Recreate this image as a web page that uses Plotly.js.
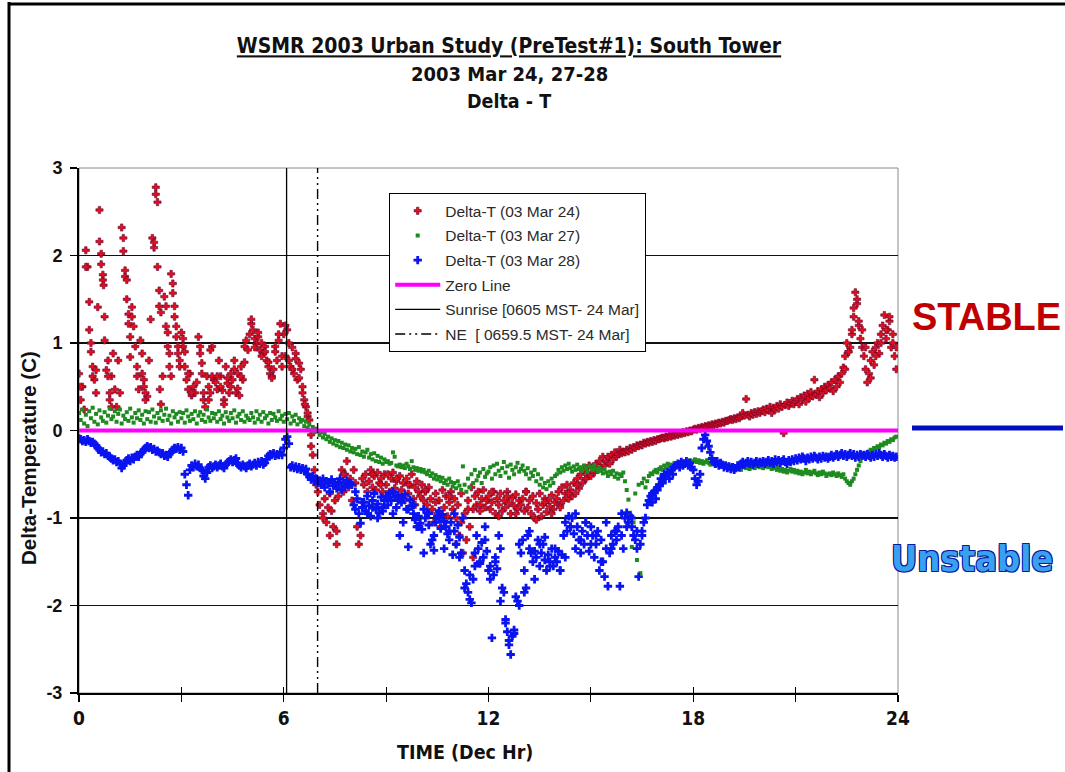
<!DOCTYPE html>
<html>
<head>
<meta charset="utf-8">
<script src="https://cdn.plot.ly/plotly-3.0.1.min.js"></script>
<style>
html,body{margin:0;padding:0;background:#fff;}
#chart{width:1065px;height:772px;}
</style>
</head>
<body>
<div id="chart"></div>
<script>
// Time axis (decimal hours, 3-minute samples)
const hours = [
0,0.05,0.1,0.15,0.2,0.25,0.3,0.35,0.4,0.45,0.5,0.55,0.6,0.65,0.7,0.75,0.8,0.85,0.9,0.95,
1,1.05,1.1,1.15,1.2,1.25,1.3,1.35,1.4,1.45,1.5,1.55,1.6,1.65,1.7,1.75,1.8,1.85,1.9,1.95,
2,2.05,2.1,2.15,2.2,2.25,2.3,2.35,2.4,2.45,2.5,2.55,2.6,2.65,2.7,2.75,2.8,2.85,2.9,2.95,
3,3.05,3.1,3.15,3.2,3.25,3.3,3.35,3.4,3.45,3.5,3.55,3.6,3.65,3.7,3.75,3.8,3.85,3.9,3.95,
4,4.05,4.1,4.15,4.2,4.25,4.3,4.35,4.4,4.45,4.5,4.55,4.6,4.65,4.7,4.75,4.8,4.85,4.9,4.95,
5,5.05,5.1,5.15,5.2,5.25,5.3,5.35,5.4,5.45,5.5,5.55,5.6,5.65,5.7,5.75,5.8,5.85,5.9,5.95,
6,6.05,6.1,6.15,6.2,6.25,6.3,6.35,6.4,6.45,6.5,6.55,6.6,6.65,6.7,6.75,6.8,6.85,6.9,6.95,
7,7.05,7.1,7.15,7.2,7.25,7.3,7.35,7.4,7.45,7.5,7.55,7.6,7.65,7.7,7.75,7.8,7.85,7.9,7.95,
8,8.05,8.1,8.15,8.2,8.25,8.3,8.35,8.4,8.45,8.5,8.55,8.6,8.65,8.7,8.75,8.8,8.85,8.9,8.95,
9,9.05,9.1,9.15,9.2,9.25,9.3,9.35,9.4,9.45,9.5,9.55,9.6,9.65,9.7,9.75,9.8,9.85,9.9,9.95,
10,10.05,10.1,10.15,10.2,10.25,10.3,10.35,10.4,10.45,10.5,10.55,10.6,10.65,10.7,10.75,10.8,10.85,10.9,10.95,
11,11.05,11.1,11.15,11.2,11.25,11.3,11.35,11.4,11.45,11.5,11.55,11.6,11.65,11.7,11.75,11.8,11.85,11.9,11.95,
12,12.05,12.1,12.15,12.2,12.25,12.3,12.35,12.4,12.45,12.5,12.55,12.6,12.65,12.7,12.75,12.8,12.85,12.9,12.95,
13,13.05,13.1,13.15,13.2,13.25,13.3,13.35,13.4,13.45,13.5,13.55,13.6,13.65,13.7,13.75,13.8,13.85,13.9,13.95,
14,14.05,14.1,14.15,14.2,14.25,14.3,14.35,14.4,14.45,14.5,14.55,14.6,14.65,14.7,14.75,14.8,14.85,14.9,14.95,
15,15.05,15.1,15.15,15.2,15.25,15.3,15.35,15.4,15.45,15.5,15.55,15.6,15.65,15.7,15.75,15.8,15.85,15.9,15.95,
16,16.05,16.1,16.15,16.2,16.25,16.3,16.35,16.4,16.45,16.5,16.55,16.6,16.65,16.7,16.75,16.8,16.85,16.9,16.95,
17,17.05,17.1,17.15,17.2,17.25,17.3,17.35,17.4,17.45,17.5,17.55,17.6,17.65,17.7,17.75,17.8,17.85,17.9,17.95,
18,18.05,18.1,18.15,18.2,18.25,18.3,18.35,18.4,18.45,18.5,18.55,18.6,18.65,18.7,18.75,18.8,18.85,18.9,18.95,
19,19.05,19.1,19.15,19.2,19.25,19.3,19.35,19.4,19.45,19.5,19.55,19.6,19.65,19.7,19.75,19.8,19.85,19.9,19.95,
20,20.05,20.1,20.15,20.2,20.25,20.3,20.35,20.4,20.45,20.5,20.55,20.6,20.65,20.7,20.75,20.8,20.85,20.9,20.95,
21,21.05,21.1,21.15,21.2,21.25,21.3,21.35,21.4,21.45,21.5,21.55,21.6,21.65,21.7,21.75,21.8,21.85,21.9,21.95,
22,22.05,22.1,22.15,22.2,22.25,22.3,22.35,22.4,22.45,22.5,22.55,22.6,22.65,22.7,22.75,22.8,22.85,22.9,22.95,
23,23.05,23.1,23.15,23.2,23.25,23.3,23.35,23.4,23.45,23.5,23.55,23.6,23.65,23.7,23.75,23.8,23.85,23.9,23.95
];

// Delta-T (03 Mar 24)
const dtMar24 = [
0.65,0.35,0.5,0.24,2.06,1.87,1.15,0.9,0.73,0.58,0.43,1.41,2.52,2.02,1.72,1.03,0.69,0.8,0.35,0.62,
0.88,0.47,0.27,0.8,0.43,2.32,2.05,1.76,1.5,1.33,1.07,1.41,1.19,0.96,0.73,0.47,1.03,0.65,0.5,0.35,
0.39,0.8,1.27,2.2,2.09,2.78,2.61,1.6,1.35,0.62,1.53,1.19,0.96,0.73,1.79,1.57,1.3,1.07,0.88,0.73,
1.12,0.96,0.73,0.58,0.47,0.65,0.4,0.5,0.43,0.55,1.07,0.88,0.65,0.35,0.27,0.62,0.5,0.43,0.96,0.58,
0.55,0.47,0.8,0.62,0.46,0.35,0.73,0.54,0.43,0.65,0.58,0.8,0.43,0.65,0.4,0.73,0.58,0.96,1.03,0.92,
1.1,1.22,1.15,1.05,0.99,1.07,0.92,1.0,0.88,0.96,0.8,0.73,0.65,0.62,0.7,0.96,0.8,1.03,1.22,0.73,
1.1,0.85,1.15,0.8,0.73,0.95,0.65,0.88,0.58,0.77,0.7,0.43,0.35,0.27,0.16,0.12,-0.18,-0.28,-0.45,-0.62,
-0.7,-0.85,-0.62,-0.95,-0.78,-1.05,-0.88,-1.2,-0.92,-1.1,-0.8,-1.15,-0.75,-0.6,-0.45,-0.7,-0.5,-0.35,-0.65,-0.55,
-0.8,-0.45,-0.6,-1.1,-1.3,-1.2,-0.55,-0.62,-0.5,-0.7,-0.58,-0.45,-0.65,-0.52,-0.68,-0.48,-0.6,-0.55,-0.7,-0.5,
-0.62,-0.5,-0.7,-0.55,-0.48,-0.66,-0.58,-0.75,-0.52,-0.68,-0.6,-0.8,-0.55,-0.72,-0.62,-0.5,-0.78,-0.65,-0.58,-0.7,
-0.75,-0.62,-0.8,-0.7,-0.85,-0.65,-0.78,-0.9,-1.05,-0.72,-0.95,-0.8,-1.1,-0.68,-0.88,-0.75,-0.98,-0.82,-0.7,-0.9,
-0.78,-1.0,-0.85,-1.2,-0.72,-1.4,-0.95,-1.25,-0.8,-1.1,-0.65,-0.9,-0.75,-0.85,-0.7,-0.92,-0.78,-0.68,-0.88,-0.8,
-0.75,-0.9,-0.82,-0.7,-0.95,-0.78,-0.85,-0.72,-0.92,-0.8,-0.88,-0.7,-0.83,-0.95,-0.77,-0.86,-0.73,-0.9,-0.8,-0.85,
-0.78,-0.92,-0.7,-0.88,-0.8,-0.95,-0.75,-1.0,-0.83,-0.9,-0.72,-0.98,-0.85,-0.78,-0.93,-0.8,-0.87,-0.74,-0.9,-0.82,
-0.78,-0.7,-0.85,-0.65,-0.8,-0.72,-0.62,-0.78,-0.68,-0.75,-0.6,-0.72,-0.55,-0.66,-0.5,-0.6,-0.45,-0.55,-0.48,-0.4,
-0.52,-0.42,-0.48,-0.38,-0.45,-0.35,-0.42,-0.3,-0.4,-0.35,-0.3,-0.38,-0.28,-0.33,-0.25,-0.3,-0.27,-0.22,-0.26,-0.24,
-0.25,-0.22,-0.24,-0.2,-0.22,-0.19,-0.2,-0.17,-0.18,-0.16,-0.17,-0.14,-0.15,-0.13,-0.14,-0.12,-0.13,-0.11,-0.12,-0.1,
-0.1,-0.09,-0.08,-0.09,-0.07,-0.08,-0.06,-0.07,-0.05,-0.06,-0.04,-0.05,-0.03,-0.04,-0.02,-0.03,-0.01,-0.02,0.0,-0.01,
0.01,0.02,0.01,0.03,0.02,0.04,0.03,0.05,0.04,0.06,0.05,0.07,0.06,0.08,0.07,0.09,0.08,0.1,0.09,0.11,
0.11,0.12,0.13,0.12,0.14,0.13,0.15,0.14,0.16,0.2,0.17,0.36,0.18,0.16,0.2,0.18,0.21,0.19,0.22,0.2,
0.22,0.24,0.21,0.25,0.23,0.27,0.2,0.26,0.24,0.28,0.25,0.3,0.27,-0.03,0.29,0.32,0.28,0.31,0.34,0.3,
0.33,0.36,0.3,0.38,0.35,0.4,0.33,0.42,0.37,0.44,0.39,0.58,0.41,0.45,0.38,0.47,0.43,0.5,0.46,0.52,
0.48,0.55,0.45,0.58,0.5,0.62,0.55,0.65,0.72,0.85,1.0,0.9,0.95,1.1,1.3,1.58,1.45,1.2,1.05,0.95,
0.85,0.7,0.55,0.65,0.8,0.9,0.75,0.95,1.0,0.88,1.1,1.2,1.32,1.05,1.15,1.25,0.95,1.1,0.85,0.7
];
// extra (off-grid) readings of the 24 Mar cloud
const dtMar24ExtraT = [0.05,0.2,0.3,0.35,0.4,0.5,0.6,0.65,0.7,0.72,0.75,0.85,0.9,0.95,
1.3,1.35,1.4,1.45,1.5,1.55,1.7,1.85,1.9,1.95,
2.2,2.25,2.3,2.35,2.37,2.4,2.55,2.6,2.65,2.7,2.75,2.8,2.85,2.9,2.95,
3.05,3.1,3.2,3.3,3.55,3.6,3.65,3.8,3.85,3.9,
4.05,4.15,4.25,4.35,4.45,4.55,4.65,4.75,4.85,
5.05,5.15,5.25,5.35,5.45,5.55,5.65,5.75,5.85,5.95,
6.05,6.15,6.25,6.35,6.45,6.55,6.62,6.7,6.8,
7.15,7.35,7.55,7.75,8.6,8.85,9.1,9.3,9.65,9.85,10.15,10.45,10.65,10.85,11.05,11.2,11.4,11.55,11.75,
12.1,12.3,12.55,12.8,13.1,13.4,13.65,13.85,14.1,14.35,14.6,14.85,15.1,
22.45,22.55,22.65,22.7,22.8,22.85,22.95,23.05,23.2,23.35,23.5,23.65,23.75,23.85,23.95];
const dtMar24ExtraV = [0.5,1.87,1.47,1.0,0.62,0.69,2.16,1.9,1.78,1.66,1.3,0.62,0.43,0.27,
2.2,1.83,1.72,1.22,0.84,1.3,0.62,0.88,0.58,0.43,
2.15,2.7,1.87,1.42,0.47,0.3,1.42,1.12,0.88,0.62,1.68,1.42,1.19,0.96,0.8,
1.05,0.9,0.65,0.43,0.96,0.77,0.43,0.35,0.92,0.62,
0.62,0.5,0.3,0.6,0.5,0.7,0.48,0.62,0.78,
1.27,0.95,1.12,0.85,0.9,0.78,0.6,0.9,1.1,0.85,
1.2,1.0,0.7,0.82,0.6,0.5,0.3,0.2,-0.05,
-1.0,-0.72,-1.3,-0.5,-0.5,-0.62,-0.72,-0.55,-0.62,-0.85,-0.68,-0.82,-1.0,-0.75,-1.3,-1.05,-0.9,-1.45,-0.85,
-0.7,-0.98,-0.75,-0.95,-0.7,-1.02,-0.82,-0.95,-0.88,-0.72,-0.62,-0.55,-0.45,
0.7,0.9,1.15,1.4,1.5,1.25,1.15,0.95,0.6,0.85,1.0,1.15,1.3,1.0,0.95];

// Delta-T (03 Mar 27)
const dtMar27 = [
0.2,0.12,0.24,0.08,0.18,0.05,0.22,0.14,0.26,0.1,0.19,0.07,0.23,0.15,0.11,0.21,0.09,0.17,0.25,0.13,
0.16,0.22,0.1,0.19,0.24,0.08,0.17,0.13,0.21,0.11,0.25,0.15,0.09,0.2,0.14,0.23,0.12,0.18,0.08,0.22,
0.13,0.21,0.1,0.24,0.16,0.09,0.2,0.14,0.23,0.11,0.18,0.25,0.12,0.17,0.08,0.22,0.15,0.19,0.1,0.21,
0.14,0.2,0.09,0.23,0.16,0.11,0.19,0.13,0.22,0.08,0.17,0.21,0.12,0.18,0.1,0.24,0.15,0.11,0.2,0.14,
0.19,0.1,0.22,0.13,0.17,0.08,0.21,0.15,0.11,0.2,0.14,0.23,0.09,0.16,0.19,0.12,0.22,0.1,0.17,0.14,
0.12,0.2,0.15,0.09,0.22,0.13,0.18,0.1,0.21,0.14,0.17,0.08,0.2,0.12,0.19,0.15,0.11,0.22,0.13,0.17,
0.1,0.19,0.13,0.2,0.08,0.16,0.11,0.18,0.07,0.14,0.1,0.12,0.05,0.1,0.03,0.07,0.0,0.04,-0.02,0.02,
-0.01,-0.05,-0.02,-0.08,-0.04,-0.1,-0.07,-0.13,-0.09,-0.15,-0.11,-0.17,-0.12,-0.19,-0.14,-0.2,-0.16,-0.22,-0.17,-0.24,
-0.2,-0.25,-0.21,-0.27,-0.19,-0.28,-0.24,-0.3,-0.25,-0.22,-0.31,-0.27,-0.33,-0.26,-0.35,-0.29,-0.36,-0.31,-0.38,-0.33,
-0.36,-0.35,-0.38,-0.37,-0.25,-0.3,-0.4,-0.41,-0.39,-0.42,-0.4,-0.43,-0.38,-0.41,-0.44,-0.35,-0.42,-0.45,-0.43,-0.46,
-0.44,-0.47,-0.45,-0.48,-0.5,-0.46,-0.52,-0.49,-0.55,-0.51,-0.56,-0.53,-0.58,-0.54,-0.6,-0.57,-0.62,-0.55,-0.59,-0.64,
-0.6,-0.66,-0.58,-0.63,-0.68,-0.41,-0.62,-0.7,-0.55,-0.65,-0.5,-0.6,-0.45,-0.57,-0.52,-0.48,-0.6,-0.44,-0.53,-0.49,
-0.47,-0.42,-0.55,-0.4,-0.5,-0.38,-0.46,-0.52,-0.43,-0.36,-0.48,-0.41,-0.54,-0.39,-0.45,-0.5,-0.42,-0.37,-0.47,-0.44,
-0.4,-0.46,-0.5,-0.43,-0.55,-0.48,-0.52,-0.45,-0.58,-0.5,-0.62,-0.55,-0.65,-0.6,-0.67,-0.58,-0.63,-0.55,-0.6,-0.52,
-0.5,-0.45,-0.48,-0.42,-0.46,-0.4,-0.44,-0.38,-0.43,-0.47,-0.41,-0.45,-0.39,-0.44,-0.42,-0.46,-0.4,-0.43,-0.47,-0.41,
-0.42,-0.45,-0.4,-0.44,-0.47,-0.43,-0.46,-0.49,-0.44,-0.48,-0.52,-0.47,-0.5,-0.46,-0.53,-0.49,-0.55,-0.5,-0.52,-0.48,
-0.58,-0.68,-0.79,-0.94,-1.33,-1.05,-0.72,-1.48,-0.62,-1.63,-0.6,-0.55,-0.65,-0.58,-0.52,-0.49,-0.5,-0.47,-0.45,-0.48,
-0.44,-0.42,-0.45,-0.4,-0.43,-0.38,-0.41,-0.39,-0.42,-0.37,-0.4,-0.38,-0.36,-0.39,-0.37,-0.35,-0.38,-0.36,-0.34,-0.37,
-0.35,-0.33,-0.36,-0.34,-0.37,-0.35,-0.38,-0.36,-0.34,-0.37,-0.39,-0.36,-0.38,-0.4,-0.37,-0.39,-0.41,-0.38,-0.4,-0.42,
-0.39,-0.41,-0.43,-0.4,-0.42,-0.44,-0.41,-0.43,-0.45,-0.42,-0.4,-0.43,-0.41,-0.44,-0.42,-0.4,-0.43,-0.41,-0.39,-0.42,
-0.4,-0.43,-0.41,-0.39,-0.42,-0.4,-0.44,-0.41,-0.43,-0.45,-0.42,-0.46,-0.44,-0.47,-0.45,-0.48,-0.46,-0.44,-0.47,-0.45,
-0.48,-0.46,-0.49,-0.47,-0.5,-0.48,-0.45,-0.49,-0.47,-0.5,-0.48,-0.46,-0.49,-0.51,-0.48,-0.5,-0.47,-0.49,-0.52,-0.5,
-0.49,-0.51,-0.48,-0.5,-0.52,-0.49,-0.51,-0.53,-0.5,-0.55,-0.58,-0.6,-0.62,-0.58,-0.55,-0.5,-0.45,-0.4,-0.35,-0.3,
-0.28,-0.26,-0.27,-0.24,-0.22,-0.23,-0.2,-0.21,-0.18,-0.19,-0.16,-0.17,-0.14,-0.15,-0.12,-0.13,-0.1,-0.11,-0.08,-0.07
];

// Delta-T (03 Mar 28)
const dtMar28 = [
-0.09,-0.1,-0.12,-0.11,-0.13,-0.1,-0.12,-0.14,-0.13,-0.15,-0.17,-0.2,-0.22,-0.25,-0.24,-0.27,-0.26,-0.29,-0.3,-0.32,
-0.34,-0.33,-0.36,-0.35,-0.38,-0.43,-0.4,-0.37,-0.34,-0.32,-0.35,-0.31,-0.33,-0.3,-0.28,-0.3,-0.27,-0.25,-0.22,-0.2,
-0.18,-0.2,-0.19,-0.22,-0.21,-0.24,-0.23,-0.25,-0.27,-0.26,-0.29,-0.28,-0.3,-0.27,-0.25,-0.22,-0.2,-0.21,-0.19,-0.22,
-0.2,-0.24,-0.5,-0.62,-0.74,-0.45,-0.4,-0.42,-0.38,-0.41,-0.39,-0.43,-0.45,-0.52,-0.55,-0.48,-0.42,-0.4,-0.43,-0.41,
-0.39,-0.42,-0.4,-0.38,-0.41,-0.43,-0.39,-0.37,-0.35,-0.33,-0.36,-0.34,-0.32,-0.38,-0.4,-0.42,-0.39,-0.41,-0.43,-0.4,
-0.38,-0.41,-0.39,-0.37,-0.4,-0.36,-0.38,-0.35,-0.39,-0.37,-0.33,-0.29,-0.27,-0.28,-0.26,-0.29,-0.27,-0.28,-0.25,-0.28,
-0.2,-0.1,-0.07,-0.15,-0.42,-0.4,-0.43,-0.41,-0.44,-0.42,-0.45,-0.43,-0.46,-0.44,-0.5,-0.53,-0.56,-0.52,-0.58,-0.55,
-0.6,-0.57,-0.62,-0.55,-0.65,-0.58,-0.6,-0.7,-0.56,-0.63,-0.59,-0.66,-0.61,-0.55,-0.68,-0.6,-0.64,-0.57,-0.62,-0.6,
-0.62,-0.85,-0.9,-0.78,-0.95,-1.06,-0.88,-0.82,-0.92,-0.75,-0.86,-0.98,-0.8,-0.72,-0.9,-0.84,-0.94,-0.76,-0.88,-0.8,
-0.75,-0.78,-0.72,-0.8,-0.7,-0.76,-0.88,-0.74,-1.2,-0.82,-0.77,-0.73,-0.9,-1.33,-0.79,-0.86,-0.95,-1.02,-1.1,-0.98,
-1.06,-1.13,-1.4,-1.0,-0.94,-1.08,-1.3,-1.25,-1.37,-1.05,-0.98,-1.0,-1.12,-0.96,-1.04,-1.1,-1.18,-1.25,-1.05,-1.42,
-1.15,-1.3,-1.08,-1.22,-1.4,-1.0,-1.6,-1.75,-1.85,-1.93,-1.97,-1.7,-1.55,-1.2,-1.35,-1.5,-1.28,-1.45,-1.1,-1.38,
-1.6,-1.55,-2.37,-1.65,-1.5,-1.58,-1.2,-1.35,-1.8,-1.85,-2.16,-2.3,-2.4,-2.56,-2.35,-2.28,-1.9,-1.95,-1.3,-1.4,
-1.25,-1.85,-1.8,-1.2,-1.35,-1.4,-1.5,-1.38,-1.45,-1.25,-1.55,-1.4,-1.3,-1.48,-1.6,-1.42,-1.5,-1.35,-1.55,-1.45,
-1.5,-1.38,-1.6,-1.42,-1.2,-1.05,-1.15,-0.98,-1.1,-1.0,-1.18,-1.35,-1.1,-1.25,-1.4,-1.15,-1.3,-1.05,-1.2,-1.38,
-1.1,-1.2,-1.45,-1.3,-1.15,-1.6,-1.25,-1.5,-1.67,-1.35,-1.78,-1.4,-1.2,-1.3,-1.15,-1.25,-1.1,-1.78,-1.2,-1.35,
-1.0,-0.94,-1.05,-0.98,-1.1,-1.2,-1.25,-1.15,-1.67,-1.3,-1.2,-1.05,-1.0,-0.85,-0.8,-0.75,-0.82,-0.7,-0.78,-0.68,
-0.62,-0.55,-0.58,-0.5,-0.52,-0.48,-0.55,-0.45,-0.5,-0.42,-0.4,-0.38,-0.42,-0.36,-0.4,-0.38,-0.35,-0.4,-0.37,-0.42,
-0.45,-0.55,-0.62,-0.58,-0.5,-0.2,-0.1,-0.05,-0.12,-0.18,-0.25,-0.32,-0.36,-0.38,-0.35,-0.4,-0.37,-0.39,-0.42,-0.4,
-0.43,-0.41,-0.44,-0.42,-0.45,-0.43,-0.4,-0.42,-0.38,-0.36,-0.39,-0.37,-0.35,-0.38,-0.36,-0.39,-0.37,-0.35,-0.38,-0.36,
-0.37,-0.35,-0.38,-0.36,-0.34,-0.37,-0.35,-0.38,-0.33,-0.36,-0.34,-0.37,-0.35,-0.33,-0.36,-0.38,-0.34,-0.36,-0.33,-0.35,
-0.32,-0.34,-0.31,-0.33,-0.3,-0.32,-0.35,-0.31,-0.33,-0.3,-0.32,-0.29,-0.31,-0.33,-0.3,-0.32,-0.29,-0.31,-0.3,-0.32,
-0.3,-0.28,-0.31,-0.29,-0.27,-0.3,-0.28,-0.26,-0.29,-0.27,-0.3,-0.28,-0.26,-0.29,-0.27,-0.31,-0.28,-0.3,-0.27,-0.29,
-0.28,-0.3,-0.27,-0.29,-0.31,-0.28,-0.3,-0.27,-0.29,-0.26,-0.28,-0.3,-0.27,-0.29,-0.31,-0.28,-0.3,-0.29,-0.31,-0.3
];
const dtMar28ExtraT = [8.1,8.3,8.45,8.6,8.75,8.9,9.05,9.2,9.35,9.5,9.65,9.8,9.95,10.1,10.25,10.4,10.55,10.7,10.85,11.0,
11.15,11.3,11.45,11.6,11.75,11.9,12.05,12.2,12.35,12.5,12.6,12.75,12.9,13.05,13.2,13.35,13.5,13.65,13.8,13.95,
14.1,14.25,14.4,14.55,14.7,14.85,15.0,15.15,15.3,15.45,15.6,15.75,15.9,16.05,16.2,16.35,16.5,16.8,16.95,17.1];
const dtMar28ExtraV = [-0.7,-0.82,-0.95,-0.88,-1.0,-0.92,-0.85,-0.95,-0.8,-1.05,-0.9,-0.85,-1.1,-0.9,-0.95,-1.2,-0.92,-1.35,-1.15,-0.95,
-1.45,-1.8,-1.65,-1.4,-1.52,-1.25,-1.7,-1.45,-1.95,-2.2,-2.45,-2.32,-2.0,-1.6,-1.15,-1.7,-1.3,-1.22,-1.55,-1.35,
-1.6,-1.45,-1.1,-0.95,-1.25,-1.05,-1.3,-1.2,-1.5,-1.05,-1.35,-1.15,-0.95,-1.1,-1.0,-1.35,-1.15,-0.72,-0.65,-0.6];

// Reference lines
const zeroLineX = [0, 24];
const zeroLineY = [0, 0];
const sunriseHr = [6.0833, 6.0833];
const neHr = [6.9917, 6.9917];
const vLineY = [-3, 3];

// Axis ticks
const yTicks = [-3, -2, -1, 0, 1, 2, 3];
const xTicks = [0, 6, 12, 18, 24];
const xTicksAll = [0, 3, 6, 9, 12, 15, 18, 21, 24];

const NARROW = '"Liberation Sans Narrow", "Arial Narrow", "DejaVu Sans Condensed", sans-serif';
const SANS = '"Liberation Sans", Arial, sans-serif';

const traces = [
  {
    name: 'Delta-T (03 Mar 24)', type: 'scatter', mode: 'markers', legendgroup: 'a',
    x: hours.concat(dtMar24ExtraT), y: dtMar24.concat(dtMar24ExtraV),
    marker: {symbol: 'cross', size: 6, color: '#e0101c', line: {color: '#6a0030', width: 0.6}}
  },
  {
    name: 'Delta-T (03 Mar 27)', type: 'scatter', mode: 'markers', legendgroup: 'b',
    x: hours, y: dtMar27,
    marker: {symbol: 'square', size: 4, color: '#1f8a1f', line: {width: 0}}
  },
  {
    name: 'Delta-T (03 Mar 28)', type: 'scatter', mode: 'markers', legendgroup: 'c',
    x: hours.concat(dtMar28ExtraT), y: dtMar28.concat(dtMar28ExtraV),
    marker: {symbol: 'cross', size: 7, color: '#0a14f0', line: {width: 0}}
  },
  {
    name: 'Zero Line', type: 'scatter', mode: 'lines', legendgroup: 'd', xaxis: 'x2',
    x: zeroLineX, y: zeroLineY, line: {color: '#ff00ff', width: 4}
  },
  {
    name: 'Sunrise [0605 MST- 24 Mar]', type: 'scatter', mode: 'lines', legendgroup: 'e', xaxis: 'x2',
    x: sunriseHr, y: vLineY, line: {color: '#000', width: 1.3}
  },
  {
    name: 'NE  [ 0659.5 MST- 24 Mar]', type: 'scatter', mode: 'lines', legendgroup: 'f', xaxis: 'x2',
    x: neHr, y: vLineY, line: {color: '#000', width: 1.4, dash: '10px,4px,2px,4px,2px,4px'}
  }
];

const PL = 79, PR = 898, PT = 168, PB = 693; // plot area in page px
const px2x = p => (p - PL) / (PR - PL);
const py2y = p => (PB - p) / (PB - PT);

const layout = {
  width: 1065, height: 772,
  paper_bgcolor: '#fff', plot_bgcolor: '#fff',
  margin: {l: PL, r: 1065 - PR, t: PT, b: 772 - PB, pad: 0},
  showlegend: true,
  title: {
    text: 'WSMR 2003 Urban Study (PreTest#1): South Tower',
    x: 509 / 1065, xanchor: 'center', xref: 'container',
    y: 1 - 46 / 772, yanchor: 'middle', yref: 'container',
    font: {family: NARROW, size: 21, weight: 'bold', color: '#111', lineposition: 'under'}
  },
  xaxis: {
    range: [0, 24], tickvals: xTicks, ticktext: xTicks.map(String),
    ticks: 'outside', ticklen: 7, tickwidth: 1.2, tickcolor: '#000',
    minor: {tickvals: xTicksAll, ticks: 'outside', ticklen: 7, tickwidth: 1.2, tickcolor: '#000', showgrid: false},
    showgrid: false, zeroline: false, showline: true, linecolor: '#000', linewidth: 2,
    tickfont: {family: NARROW, size: 19, weight: 'bold', color: '#111'},
    fixedrange: true
  },
  xaxis2: {
    overlaying: 'x', anchor: 'y', side: 'bottom', range: [0, 24],
    tickvals: xTicksAll, ticks: 'inside', ticklen: 6, tickwidth: 1.2, tickcolor: '#000',
    showticklabels: false, showgrid: false, zeroline: false, showline: false, fixedrange: true
  },
  yaxis: {
    range: [-3, 3], tickvals: yTicks, ticktext: yTicks.map(String),
    ticks: 'outside', ticklen: 7, tickwidth: 1.2, tickcolor: '#000',
    showgrid: true, gridcolor: '#111', gridwidth: 1.6,
    zeroline: false, showline: true, linecolor: '#000', linewidth: 2,
    tickfont: {family: SANS, size: 18, weight: 'bold', color: '#111'},
    ticklabelstandoff: 4,
    fixedrange: true
  },
  legend: {
    x: px2x(389), y: py2y(193), xanchor: 'left', yanchor: 'top',
    bgcolor: '#fff', bordercolor: '#000', borderwidth: 1.2,
    font: {family: SANS, size: 15.5, color: '#2a2a2a'},
    itemwidth: 45, tracegroupgap: 1.5, traceorder: 'grouped',
    itemclick: false, itemdoubleclick: false
  },
  shapes: [
    {type: 'rect', xref: 'paper', yref: 'paper', x0: 0, x1: 1, y0: 0, y1: 1,
     line: {color: '#8a8a8a', width: 1}, layer: 'below'},
    {type: 'line', xref: 'paper', yref: 'paper', x0: px2x(9), x1: px2x(9), y0: py2y(2), y1: py2y(772),
     line: {color: '#000', width: 3}},
    {type: 'line', xref: 'paper', yref: 'paper', x0: px2x(8), x1: px2x(1065), y0: py2y(4), y1: py2y(4),
     line: {color: '#000', width: 3}},
    {type: 'line', xref: 'paper', yref: 'paper', x0: px2x(912), x1: px2x(1063), y0: py2y(428), y1: py2y(428),
     line: {color: '#0010c0', width: 5}}
  ],
  annotations: [
    {text: '2003 Mar 24, 27-28', xref: 'paper', yref: 'paper', x: px2x(509), y: py2y(74),
     showarrow: false, xanchor: 'center', yanchor: 'middle',
     font: {family: NARROW, size: 20, weight: 'bold', color: '#111'}},
    {text: 'Delta - T', xref: 'paper', yref: 'paper', x: px2x(509), y: py2y(101),
     showarrow: false, xanchor: 'center', yanchor: 'middle',
     font: {family: NARROW, size: 19.5, weight: 'bold', color: '#111'}},
    {text: 'TIME (Dec Hr)', xref: 'paper', yref: 'paper', x: px2x(465), y: py2y(752),
     showarrow: false, xanchor: 'center', yanchor: 'middle',
     font: {family: NARROW, size: 19.5, weight: 'bold', color: '#111'}},
    {text: 'Delta-Temperature (C)', xref: 'paper', yref: 'paper', x: px2x(28), y: py2y(458),
     showarrow: false, xanchor: 'center', yanchor: 'middle', textangle: -90,
     font: {family: SANS, size: 20.5, weight: 'bold', color: '#111'}},
    {text: 'STABLE', xref: 'paper', yref: 'paper', x: px2x(986), y: py2y(317),
     showarrow: false, xanchor: 'center', yanchor: 'middle',
     font: {family: SANS, size: 38, weight: 'bold', color: '#c00000'}},
    {text: 'Unstable', xref: 'paper', yref: 'paper', x: px2x(972), y: py2y(558),
     showarrow: false, xanchor: 'center', yanchor: 'middle',
     font: {family: NARROW, size: 36, weight: 'bold', color: '#3aa0f0',
            shadow: '1px 1px 0 #0a1a9a, -1px -1px 0 #0a1a9a, 1px -1px 0 #0a1a9a, -1px 1px 0 #0a1a9a'}}
  ]
};

Plotly.newPlot('chart', traces, layout, {displayModeBar: false, staticPlot: true});
</script>
</body>
</html>
